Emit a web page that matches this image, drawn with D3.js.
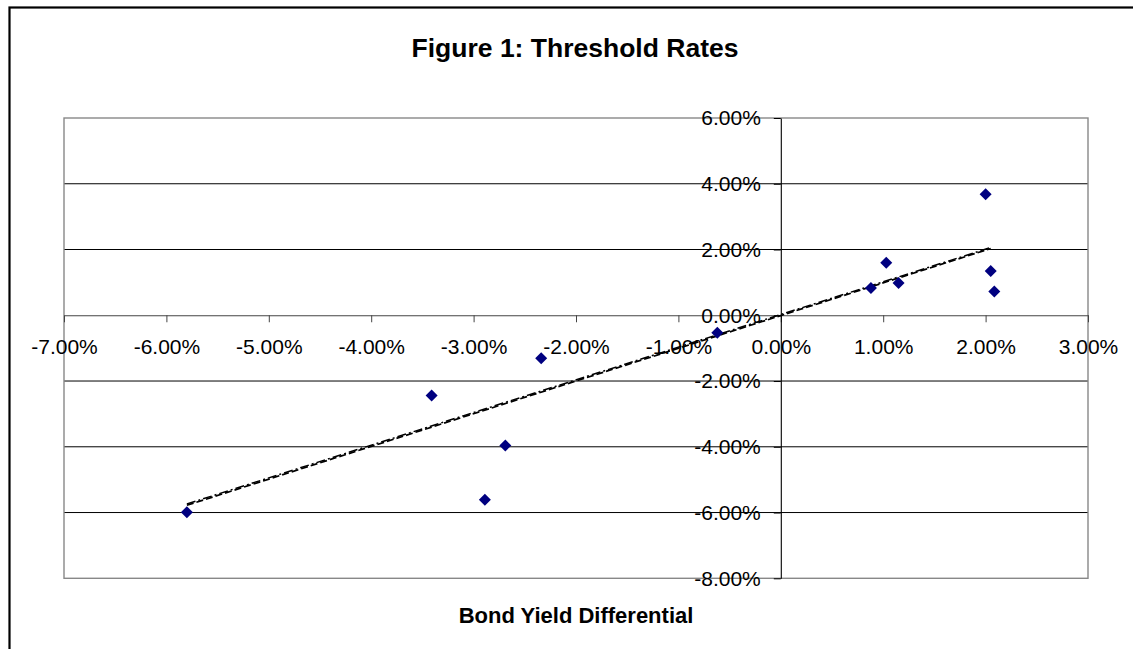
<!DOCTYPE html>
<html>
<head>
<meta charset="utf-8">
<script src="https://cdn.jsdelivr.net/npm/d3@7"></script>
<style>
  html, body { margin: 0; padding: 0; background: #fff; }
  svg { display: block; font-family: "Liberation Sans", Arial, sans-serif; }
</style>
</head>
<body>
<svg id="chart" width="1133" height="649"></svg>
<script>
// Bond yield differential (x) vs threshold rate (y), as fractions
const bondYieldDiff = [-0.0580, -0.0341, -0.0289, -0.0269, -0.0234, -0.0062, 0.0088, 0.0103, 0.0115, 0.0200, 0.0205, 0.02085];
const thresholdRate = [-0.0599, -0.0244, -0.0561, -0.0396, -0.0131, -0.0053, 0.0083, 0.0160, 0.0098, 0.0368, 0.0135, 0.0072];

// Two fitted lines over the data range
const fitX = [-0.0580, 0.0205];
const fitDashed = [-0.0578, 0.0203];
const fitDashDot = [-0.0574, 0.0206];

const xTicks = [-0.07, -0.06, -0.05, -0.04, -0.03, -0.02, -0.01, 0, 0.01, 0.02, 0.03];
const yTicks = [0.06, 0.04, 0.02, 0, -0.02, -0.04, -0.06, -0.08];

const titleText = "Figure 1: Threshold Rates";
const xTitleText = "Bond Yield Differential";

const svg = d3.select("#chart");
const plot = { left: 64, top: 118, right: 1088, bottom: 578.3 };

const x = d3.scaleLinear().domain([-0.07, 0.03]).range([plot.left, plot.right]);
const y = d3.scaleLinear().domain([-0.08, 0.06]).range([plot.bottom, plot.top]);
const pct = d3.format(".2%");
const fmt = v => pct(v).replace("\u2212", "-");

// Outer chart frame (runs past the right and bottom edges)
svg.append("rect")
  .attr("x", 9.5).attr("y", 7.5)
  .attr("width", 1150).attr("height", 680)
  .attr("fill", "none").attr("stroke", "#000").attr("stroke-width", 2.2);

// Title
svg.append("text")
  .attr("x", 575).attr("y", 56.5)
  .attr("text-anchor", "middle")
  .attr("font-weight", "bold").attr("font-size", "26.5px")
  .attr("fill", "#000")
  .text(titleText);

// Horizontal gridlines
svg.append("g").selectAll("line")
  .data(yTicks.filter(t => t !== 0.06 && t !== -0.08 && t !== 0))
  .join("line")
  .attr("x1", plot.left).attr("x2", plot.right)
  .attr("y1", d => y(d)).attr("y2", d => y(d))
  .attr("stroke", "#000").attr("stroke-width", 1);

// Plot area border
svg.append("rect")
  .attr("x", plot.left).attr("y", plot.top)
  .attr("width", plot.right - plot.left).attr("height", plot.bottom - plot.top)
  .attr("fill", "none").attr("stroke", "#888").attr("stroke-width", 1.4);

// X axis through y = 0
const xAxis = svg.append("g")
  .attr("transform", `translate(0,${y(0)})`)
  .call(d3.axisBottom(x).tickValues(xTicks).tickFormat(fmt).tickSize(7).tickSizeOuter(0).tickPadding(17));
xAxis.select(".domain").attr("stroke", "#444").attr("stroke-width", 1.2);
xAxis.selectAll(".tick line").attr("stroke", "#444");
xAxis.selectAll(".tick text")
  .attr("font-size", "21px").attr("fill", "#000")
  .attr("font-family", "'Liberation Sans', Arial, sans-serif");

// Y axis through x = 0
const yAxis = svg.append("g")
  .attr("transform", `translate(${x(0)},0)`)
  .call(d3.axisLeft(y).tickValues(yTicks).tickFormat(fmt).tickSize(7).tickSizeOuter(0).tickPadding(13));
yAxis.select(".domain").attr("stroke", "#000").attr("stroke-width", 1.1);
yAxis.selectAll(".tick line").attr("stroke", "#000");
yAxis.selectAll(".tick text")
  .attr("font-size", "21px").attr("fill", "#000")
  .attr("font-family", "'Liberation Sans', Arial, sans-serif");

// Fitted lines
const line = d3.line().x(d => x(d[0])).y(d => y(d[1]));
svg.append("path")
  .datum(fitX.map((v, i) => [v, fitDashed[i]]))
  .attr("d", line)
  .attr("fill", "none").attr("stroke", "#000").attr("stroke-width", 1.7)
  .attr("stroke-dasharray", "7,3");
svg.append("path")
  .datum(fitX.map((v, i) => [v, fitDashDot[i]]))
  .attr("d", line)
  .attr("fill", "none").attr("stroke", "#000").attr("stroke-width", 1.5)
  .attr("stroke-dasharray", "9,3,2,3");

// Data points as navy diamonds
const r = 6;
const diamondPath = `M0,${-r}L${r},0L0,${r}L${-r},0Z`;
svg.append("g").selectAll("path")
  .data(bondYieldDiff.map((v, i) => [v, thresholdRate[i]]))
  .join("path")
  .attr("transform", d => `translate(${x(d[0])},${y(d[1])})`)
  .attr("d", diamondPath)
  .attr("fill", "#000080");

// X axis title
svg.append("text")
  .attr("x", 576).attr("y", 623)
  .attr("text-anchor", "middle")
  .attr("font-weight", "bold").attr("font-size", "22px")
  .attr("fill", "#000")
  .text(xTitleText);
</script>
</body>
</html>
